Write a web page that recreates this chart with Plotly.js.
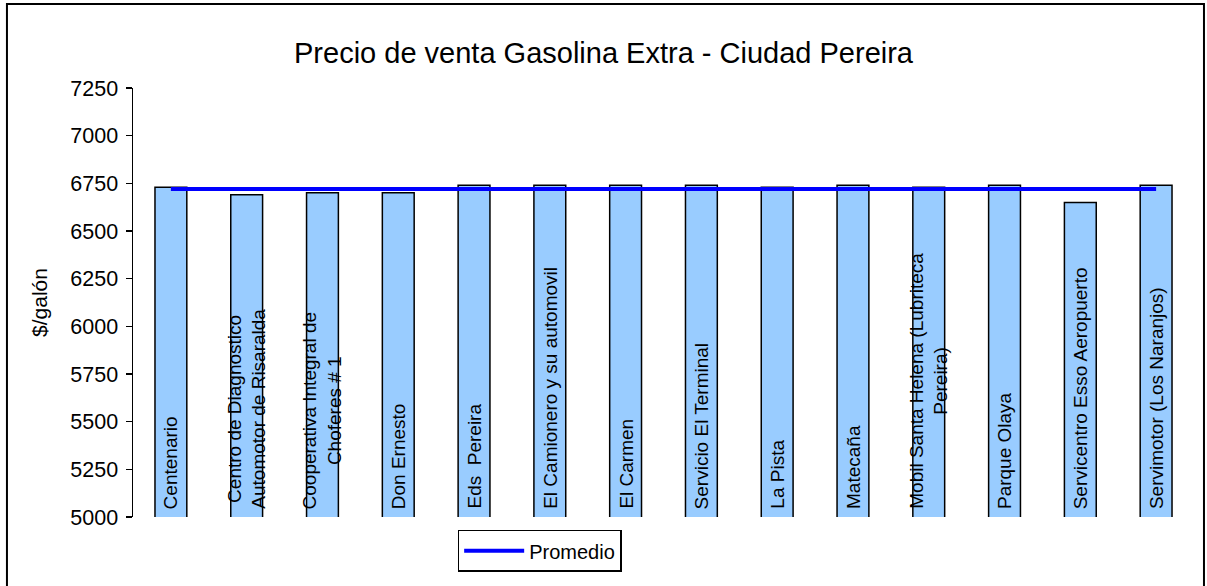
<!DOCTYPE html>
<html>
<head>
<meta charset="utf-8">
<script src="https://cdn.plot.ly/plotly-3.0.1.min.js"></script>
<style>
  html, body { margin: 0; padding: 0; background: #fff; }
  #chart { width: 1207px; height: 586px; }
</style>
</head>
<body>
<div id="chart"></div>
<script>
var estaciones = [
  'Centenario',
  'Centro de Diagnostico<br>Automotor de Risaralda',
  'Cooperativa Integral de<br>Choferes # 1',
  'Don Ernesto',
  'Eds  Pereira',
  'El Camionero y su automovil',
  'El Carmen',
  'Servicio El Terminal',
  'La Pista',
  'Matecaña',
  'Mobil Santa Helena (Lubriteca<br>Pereira)',
  'Parque Olaya',
  'Servicentro Esso Aeropuerto',
  'Servimotor (Los Naranjos)'
];
var precios = [6730, 6690, 6700, 6700, 6740, 6740, 6740, 6740, 6730, 6740, 6730, 6740, 6650, 6740];
var promedio = [6720, 6720, 6720, 6720, 6720, 6720, 6720, 6720, 6720, 6720, 6720, 6720, 6720, 6720];
var baseEje = 5000;

var fuente = 'Liberation Sans, Arial, sans-serif';

var barras = {
  x: estaciones,
  y: precios,
  type: 'bar',
  name: 'Precio',
  showlegend: false,
  marker: { color: '#99CCFF', line: { color: '#000000', width: 1.5 } },
  hoverinfo: 'x+y'
};

var linea = {
  x: estaciones,
  y: promedio,
  type: 'scatter',
  mode: 'lines',
  name: 'Promedio',
  line: { color: '#0000FF', width: 4 }
};

// etiquetas verticales dentro de cada barra, desde la base del eje
var etiquetas = estaciones.map(function (nombre) {
  return {
    x: nombre,
    y: baseEje,
    xref: 'x',
    yref: 'y',
    text: nombre,
    showarrow: false,
    textangle: -90,
    xanchor: 'center',
    yanchor: 'bottom',
    align: 'center',
    yshift: 6,
    font: { family: fuente, size: 19, color: '#000000' }
  };
});

var layout = {
  width: 1207,
  height: 586,
  margin: { l: 133, r: 13, t: 88, b: 69 },
  paper_bgcolor: '#ffffff',
  plot_bgcolor: '#ffffff',
  font: { family: fuente, size: 21, color: '#000000' },
  title: {
    text: 'Precio de venta Gasolina Extra - Ciudad Pereira',
    font: { family: fuente, size: 29, color: '#000000' },
    x: 0.5, xref: 'container', xanchor: 'center',
    y: 0.91, yanchor: 'middle'
  },
  bargap: 0.58,
  xaxis: {
    showticklabels: false,
    ticks: '',
    showline: false,
    showgrid: false,
    zeroline: false
  },
  yaxis: {
    title: { text: '$/galón', font: { family: fuente, size: 21 }, standoff: 17 },
    range: [5000, 7250],
    dtick: 250,
    tick0: 5000,
    ticks: 'outside',
    ticklen: 6,
    tickwidth: 1.5,
    tickcolor: '#000000',
    ticklabelstandoff: 3,
    showline: true,
    linecolor: '#000000',
    linewidth: 1.5,
    showgrid: false,
    zeroline: false,
    tickfont: { family: fuente, size: 21.5 },
    automargin: false
  },
  showlegend: true,
  legend: {
    x: 0.306, xanchor: 'left',
    y: -0.03, yanchor: 'top',
    orientation: 'h',
    itemwidth: 60,
    bordercolor: '#000000',
    borderwidth: 1.5,
    bgcolor: '#ffffff',
    font: { family: fuente, size: 20 }
  },
  annotations: etiquetas,
  shapes: [{
    type: 'rect',
    xref: 'paper', yref: 'paper',
    x0: -0.1188, x1: 1.0094, y0: -0.2, y1: 1.1958,
    line: { color: '#000000', width: 2 },
    fillcolor: 'rgba(0,0,0,0)',
    layer: 'above'
  }]
};

Plotly.newPlot('chart', [barras, linea], layout, { displayModeBar: false, staticPlot: true });
</script>
</body>
</html>
